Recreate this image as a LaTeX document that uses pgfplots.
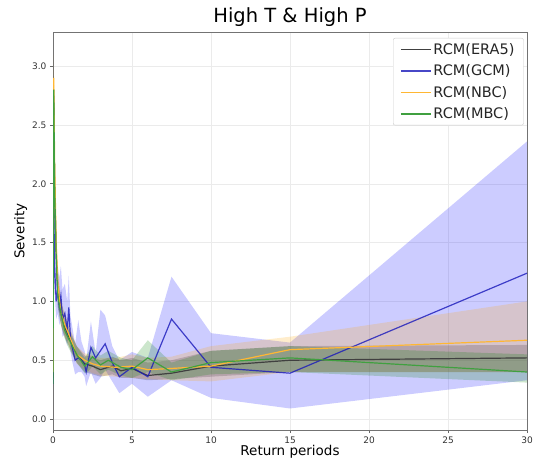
\documentclass[border=0pt]{standalone}
\usepackage{pgfplots}
\usepackage{pgfplotstable}
\pgfplotsset{compat=1.18}
\usepgfplotslibrary{fillbetween}
\usepackage{fontspec}
\setmainfont{DejaVu Sans}
\definecolor{mplorange}{HTML}{FFA500}
\definecolor{mplgreen}{HTML}{008000}
\definecolor{mplblue}{HTML}{0000FF}

\pgfplotstableread{
x y lo hi
0 0.35 0.30 0.40
0.05 2.75 2.50 3.05
0.1 2.0 1.8 2.25
0.2 1.4 1.25 1.6
0.3 1.1 0.97 1.25
0.5 0.9 0.8 1.0
0.75 0.78 0.69 0.88
1.0 0.70 0.62 0.78
1.5 0.55 0.48 0.62
2.0 0.47 0.40 0.54
2.5 0.45 0.38 0.53
3.0 0.42 0.36 0.50
3.75 0.45 0.38 0.53
4.3 0.41 0.35 0.50
5 0.43 0.35 0.52
6 0.37 0.33 0.48
7.5 0.39 0.34 0.50
10 0.45 0.36 0.58
15 0.50 0.40 0.62
30 0.52 0.40 0.63
}\era

\pgfplotstableread{
x y lo hi
0 0.30 0.28 0.32
0.05 1.8 1.5 2.0
0.1 1.3 1.1 1.45
0.2 1.0 0.85 1.25
0.3 1.1 0.9 1.3
0.4 0.95 0.8 1.2
0.5 1.05 0.85 1.3
0.6 0.85 0.7 1.1
0.75 0.9 0.72 1.15
0.9 0.75 0.62 1.0
1.0 0.95 0.75 1.22
1.1 0.70 0.58 0.88
1.2 0.62 0.5 0.8
1.4 0.50 0.38 0.64
1.6 0.52 0.40 0.84
1.8 0.50 0.40 0.66
2.0 0.46 0.36 0.58
2.1 0.40 0.28 0.50
2.4 0.61 0.40 0.83
2.7 0.52 0.30 0.56
3.0 0.58 0.35 0.93
3.3 0.64 0.42 0.88
3.75 0.48 0.32 0.62
4.2 0.36 0.22 0.50
5 0.44 0.30 0.57
6 0.36 0.19 0.52
7.5 0.85 0.33 1.21
10 0.44 0.18 0.73
15 0.39 0.09 0.65
30 1.24 0.33 2.36
}\gcm

\pgfplotstableread{
x y lo hi
0 0.40 0.35 0.45
0.05 2.9 2.6 3.1
0.1 2.2 1.9 2.4
0.2 1.5 1.3 1.7
0.3 1.15 1.0 1.3
0.5 0.9 0.8 1.0
0.75 0.8 0.7 0.9
1.0 0.72 0.63 0.8
1.5 0.55 0.47 0.62
2.0 0.50 0.42 0.56
2.5 0.47 0.39 0.54
3.0 0.45 0.37 0.52
4.0 0.44 0.36 0.52
5 0.45 0.35 0.55
6 0.42 0.34 0.52
7.5 0.43 0.33 0.53
10 0.45 0.32 0.62
15 0.59 0.40 0.70
30 0.67 0.40 1.00
}\nbc

\pgfplotstableread{
x y lo hi
0 0.30 0.25 0.35
0.05 2.8 2.6 2.9
0.1 2.0 1.85 2.15
0.2 1.4 1.3 1.5
0.3 1.05 0.95 1.15
0.5 0.9 0.8 1.0
0.75 0.75 0.68 0.82
1.0 0.68 0.6 0.75
1.5 0.55 0.48 0.62
2.0 0.45 0.39 0.52
2.2 0.48 0.40 0.56
2.5 0.53 0.45 0.62
3.0 0.46 0.38 0.54
3.5 0.50 0.42 0.58
4.3 0.44 0.37 0.52
5 0.42 0.35 0.50
6 0.52 0.40 0.67
7.5 0.40 0.33 0.48
10 0.48 0.38 0.58
15 0.52 0.40 0.62
30 0.40 0.31 0.55
}\mbc

\begin{document}
\begin{tikzpicture}
\begin{axis}[name=ax,
  scale only axis, width=474pt, height=398pt,
  xmin=0, xmax=30, ymin=-0.093, ymax=3.29,
  xtick={0,5,10,15,20,25,30},
  ytick={0,0.5,1,1.5,2,2.5,3},
  yticklabel style={/pgf/number format/fixed, /pgf/number format/fixed zerofill, /pgf/number format/precision=1},
  /pgf/number format/assume math mode=true,
  ticklabel style={font=\fontsize{9}{10}\selectfont, text=black!80},
  tick align=outside, tick pos=left,
  major tick length=3pt,
  every tick/.style={black!60, line width=0.6pt},
  axis line style={black!55, line width=0.8pt},
  grid=major, grid style={black!8, line width=0.4pt},
  title={High T \& High P}, title style={font=\fontsize{19.5}{21}\selectfont, yshift=-4pt},
  xlabel={Return periods}, ylabel={Severity},
  label style={font=\fontsize{13.5}{15}\selectfont},
  xlabel style={yshift=5pt}, ylabel style={yshift=-2pt},
  legend style={at={(0.993,0.985)}, anchor=north east, font=\fontsize{14.5}{17}\selectfont,
    text=black!85, draw=black!20, rounded corners=2pt, row sep=5pt, inner xsep=7pt, inner ysep=3pt},
  legend cell align=left,
  legend image code/.code={\draw[#1, line width=1.3pt] (0cm,0cm) -- (1.05cm,0cm);},
]
% bands
\addplot[name path=eH, draw=none, forget plot] table[x=x,y=hi]{\era};
\addplot[name path=eL, draw=none, forget plot] table[x=x,y=lo]{\era};
\addplot[black, fill opacity=0.2, draw=none, forget plot] fill between[of=eH and eL];
\addplot[name path=gH, draw=none, forget plot] table[x=x,y=hi]{\gcm};
\addplot[name path=gL, draw=none, forget plot] table[x=x,y=lo]{\gcm};
\addplot[mplblue, fill opacity=0.2, draw=none, forget plot] fill between[of=gH and gL];
\addplot[name path=nH, draw=none, forget plot] table[x=x,y=hi]{\nbc};
\addplot[name path=nL, draw=none, forget plot] table[x=x,y=lo]{\nbc};
\addplot[mplorange, fill opacity=0.2, draw=none, forget plot] fill between[of=nH and nL];
\addplot[name path=mH, draw=none, forget plot] table[x=x,y=hi]{\mbc};
\addplot[name path=mL, draw=none, forget plot] table[x=x,y=lo]{\mbc};
\addplot[mplgreen, fill opacity=0.2, draw=none, forget plot] fill between[of=mH and mL];
% lines
\addplot[black!75, line width=1.2pt, mark=none] table[x=x,y=y]{\era};
\addlegendentry{RCM(ERA5)}
\addplot[mplblue!70!black!90, opacity=0.8, line width=1.2pt, mark=none] table[x=x,y=y]{\gcm};
\addlegendentry{RCM(GCM)}
\addplot[mplorange!80, line width=1.2pt, mark=none] table[x=x,y=y]{\nbc};
\addlegendentry{RCM(NBC)}
\addplot[mplgreen!75, line width=1.2pt, mark=none] table[x=x,y=y]{\mbc};
\addlegendentry{RCM(MBC)}
\end{axis}
\pgfresetboundingbox
\path ([shift={(-53pt,-31pt)}]ax.south west) rectangle ([shift={(7pt,32pt)}]ax.north east);
\end{tikzpicture}
\end{document}
